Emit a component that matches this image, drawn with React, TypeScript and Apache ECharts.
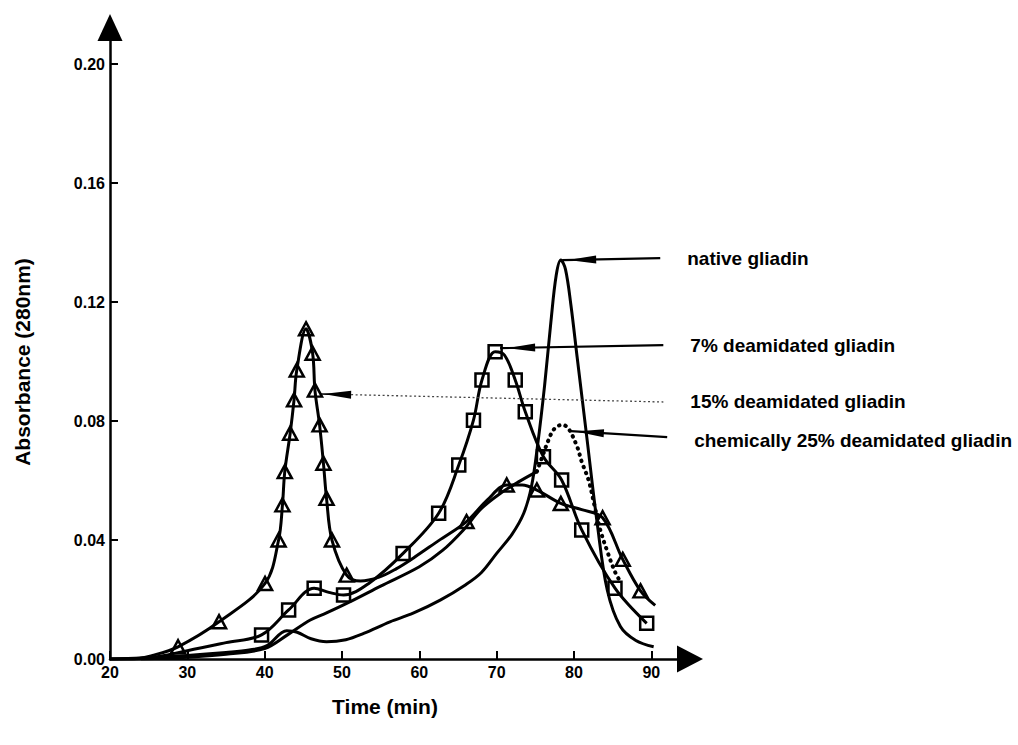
import React, { useEffect, useRef } from "react";
import * as echarts from "echarts";

const FONT = '"Liberation Sans", Arial, Helvetica, sans-serif';

// Axis ticks
const xTicks = [20, 30, 40, 50, 60, 70, 80, 90];
const yTicks = [0, 0.04, 0.08, 0.12, 0.16, 0.2];

// native gliadin (solid, no markers)
const nativeGliadin: [number, number][] = [
  [20, 0], [24, 0.0003], [30, 0.0012], [35, 0.0022], [38, 0.003], [40.3, 0.0045],
  [42.85, 0.0095], [44.2, 0.009], [46, 0.0068], [48, 0.0058], [50.5, 0.0065],
  [52.8, 0.0086], [56.2, 0.0125], [59.2, 0.0154], [62.7, 0.0198], [66, 0.025],
  [68, 0.029], [70, 0.0355], [72, 0.042], [73.5, 0.049], [74.5, 0.058],
  [75.3, 0.072], [76.2, 0.092], [77.0, 0.113], [77.7, 0.129], [78.3, 0.1341],
  [78.9, 0.131], [79.6, 0.119], [80.4, 0.1016], [81.7, 0.0736], [83.0, 0.0456],
  [84.3, 0.0232], [86.0, 0.0109], [88, 0.0062], [90.3, 0.0041],
];

// 7% deamidated gliadin (squares)
const deam7Markers: [number, number][] = [
  [39.6, 0.0081], [43.1, 0.0165], [46.4, 0.0238], [50.2, 0.0215], [57.9, 0.0355],
  [62.5, 0.049], [65.1, 0.0652], [67.0, 0.0803], [68.1, 0.0938], [69.8, 0.1033],
  [72.4, 0.0938], [73.7, 0.0831], [76.05, 0.068], [78.4, 0.0602], [81.0, 0.0434],
  [85.3, 0.0238], [89.4, 0.012],
];
const deam7Extra: [number, number][] = [
  [20, 0], [25, 0.0004], [30, 0.0028], [35, 0.0055], [48.3, 0.0224], [53.5, 0.0255],
  [71.0, 0.1022],
];

// 15% deamidated gliadin (triangles)
const deam15Markers: [number, number][] = [
  [28.8, 0.0041], [34.1, 0.0125], [40.05, 0.0254], [41.8, 0.040], [42.3, 0.0518],
  [42.6, 0.063], [43.3, 0.0759], [43.8, 0.0871], [44.15, 0.0971], [45.35, 0.111],
  [46.2, 0.1028], [46.5, 0.0904], [47.1, 0.0787], [47.6, 0.0658], [48.0, 0.054],
  [48.7, 0.040], [50.6, 0.0282], [66.1, 0.0462], [71.3, 0.0585], [75.2, 0.0568],
  [78.3, 0.0523], [83.7, 0.0475], [86.3, 0.0335], [88.6, 0.0229],
];
const deam15Extra: [number, number][] = [
  [20, 0], [23, 0], [25.5, 0.0012], [52.4, 0.0262], [54.8, 0.0275], [57, 0.0303],
  [59.2, 0.0339], [62.5, 0.0398], [68.8, 0.0535], [73.3, 0.0585], [81, 0.0502],
  [90.5, 0.018],
];

// chemically 25% deamidated gliadin (solid part, then dotted part)
const deam25Solid: [number, number][] = [
  [24, 0], [30, 0.0006], [35, 0.0016], [40, 0.0035], [43, 0.0082], [45.9, 0.0131],
  [48, 0.0155], [51, 0.0192], [55, 0.0245], [60, 0.031], [63, 0.0365], [65.7, 0.0434],
  [68, 0.0505], [70.5, 0.0557], [73, 0.0598], [75.2, 0.063],
];
const deam25Dotted: [number, number][] = [
  [75.2, 0.063], [75.9, 0.068], [76.7, 0.0736], [77.4, 0.0772], [78.4, 0.0787],
  [79.2, 0.0778], [80.4, 0.0714], [81.0, 0.0663], [81.9, 0.060], [82.7, 0.051],
  [83.4, 0.0434], [84.25, 0.0366], [85.3, 0.0293], [86, 0.026],
];

// Annotation labels and arrows (data coordinates)
const labelTexts = [
  "native gliadin",
  "7% deamidated gliadin",
  "15% deamidated gliadin",
  "chemically 25% deamidated gliadin",
];
const arrowTips: [number, number][] = [[78.47, 0.1341], [70.45, 0.1045], [47.3, 0.0891], [79.6, 0.0766]];
const arrowEnds: [number, number][] = [[91.15, 0.1348], [91.55, 0.1055], [91.55, 0.0864], [92.05, 0.0746]];
const arrowDotted = [false, false, true, false];

const merge = (a: [number, number][], b: [number, number][]) =>
  [...a, ...b].sort((p, q) => p[0] - q[0]);

const lineStyle = { color: "#000", width: 3 };
const SMOOTH = 0.35;

export default function App() {
  const ref = useRef<HTMLDivElement>(null);

  useEffect(() => {
    if (!ref.current) return;
    const chart = echarts.init(ref.current, undefined, { renderer: "svg" });

    const axisText = { color: "#000", fontWeight: "bold" as const, fontSize: 16, fontFamily: FONT };
    const markerStyle = { color: "rgba(255,255,255,0)", borderColor: "#000", borderWidth: 2.5, opacity: 1 };

    chart.setOption({
      animation: false,
      backgroundColor: "#fff",
      grid: { left: 110, right: 328, top: 27.5, bottom: 86, containLabel: false },
      xAxis: {
        type: "value",
        min: 20,
        max: 95,
        axisLine: {
          show: true,
          symbol: ["none", "triangle"],
          symbolSize: [27, 26],
          lineStyle: { color: "#000", width: 2.5 },
        },
        axisTick: { show: true, inside: true, length: 8, customValues: xTicks, lineStyle: { color: "#000", width: 2 } },
        axisLabel: { ...axisText, customValues: xTicks, margin: 5 },
        splitLine: { show: false },
      },
      yAxis: {
        type: "value",
        min: 0,
        max: 0.2123,
        axisLine: {
          show: true,
          onZero: false,
          symbol: ["none", "triangle"],
          symbolSize: [25, 27],
          lineStyle: { color: "#000", width: 2.5 },
        },
        axisTick: { show: true, inside: true, length: 8, customValues: yTicks, lineStyle: { color: "#000", width: 2 } },
        axisLabel: { ...axisText, customValues: yTicks, margin: 5, formatter: (v: number) => v.toFixed(2) },
        splitLine: { show: false },
      },
      series: [
        {
          name: "native gliadin", type: "line", data: nativeGliadin, symbol: "none",
          smooth: SMOOTH, lineStyle,
        },
        {
          name: "7% deamidated gliadin", type: "line", data: merge(deam7Markers, deam7Extra), symbol: "none",
          smooth: SMOOTH, lineStyle,
        },
        {
          name: "7% markers", type: "scatter", data: deam7Markers, symbol: "rect", symbolSize: 13,
          itemStyle: markerStyle, z: 5,
        },
        {
          name: "15% deamidated gliadin", type: "line", data: merge(deam15Markers, deam15Extra), symbol: "none",
          smooth: SMOOTH, lineStyle,
        },
        {
          name: "15% markers", type: "scatter", data: deam15Markers, symbol: "triangle", symbolSize: [14, 13],
          itemStyle: markerStyle, z: 5,
        },
        {
          name: "chemically 25% deamidated gliadin", type: "line", data: deam25Solid, symbol: "none",
          smooth: SMOOTH, lineStyle,
        },
        {
          name: "chemically 25% dotted", type: "line", data: deam25Dotted, symbol: "none",
          smooth: SMOOTH,
          lineStyle: { color: "#000", width: 4, type: [0.5, 6], cap: "round" },
        },
      ],
    });

    const px = (p: [number, number]) => chart.convertToPixel({ xAxisIndex: 0, yAxisIndex: 0 }, p) as number[];
    const headOffsets = [6, 7, 2, 5];
    const graphics: any[] = [];
    labelTexts.forEach((txt, i) => {
      const tip = px(arrowTips[i]);
      const end = px(arrowEnds[i]);
      const dx = end[0] - tip[0];
      const dy = end[1] - tip[1];
      const len = Math.hypot(dx, dy);
      const ux = dx / len, uy = dy / len;
      const nx = -uy, ny = ux;
      const o = headOffsets[i];
      const hl = 28, hw = 4;
      const a = [tip[0] + ux * o, tip[1] + uy * o];
      const b = [tip[0] + ux * (o + hl), tip[1] + uy * (o + hl)];
      if (arrowDotted[i]) {
        graphics.push({
          type: "line", shape: { x1: tip[0], y1: tip[1], x2: b[0], y2: b[1] },
          style: { stroke: "#000", lineWidth: 1.5 }, z: 10,
        });
        graphics.push({
          type: "line", shape: { x1: b[0], y1: b[1], x2: end[0], y2: end[1] },
          style: { stroke: "#444", lineWidth: 1.3, lineDash: [2, 2.5] }, z: 10,
        });
      } else {
        graphics.push({
          type: "line", shape: { x1: tip[0], y1: tip[1], x2: end[0], y2: end[1] },
          style: { stroke: "#000", lineWidth: 2.2 }, z: 10,
        });
      }
      graphics.push({
        type: "polygon",
        shape: { points: [a, [b[0] + nx * hw, b[1] + ny * hw], [b[0] - nx * hw, b[1] - ny * hw]] },
        style: { fill: "#000" }, z: 10,
      });
      graphics.push({
        type: "text", x: end[0] + 27, y: end[1] + (i === 3 ? 3 : 0), z: 10,
        style: { text: txt, font: `bold 19px ${FONT}`, fill: "#000", align: "left", verticalAlign: "middle" },
      });
    });
    graphics.push({
      type: "text", x: 385, y: 706,
      style: { text: "Time (min)", font: `bold 21px ${FONT}`, fill: "#000", align: "center", verticalAlign: "middle" },
    });
    graphics.push({
      type: "text", x: 22, y: 362, rotation: Math.PI / 2,
      style: { text: "Absorbance (280nm)", font: `bold 21px ${FONT}`, fill: "#000", align: "center", verticalAlign: "middle" },
    });
    chart.setOption({ graphic: graphics });

    return () => chart.dispose();
  }, []);

  return (
    <div
      ref={ref}
      style={{ position: "fixed", left: 0, top: 0, width: 1018, height: 745, background: "#fff" }}
    />
  );
}
